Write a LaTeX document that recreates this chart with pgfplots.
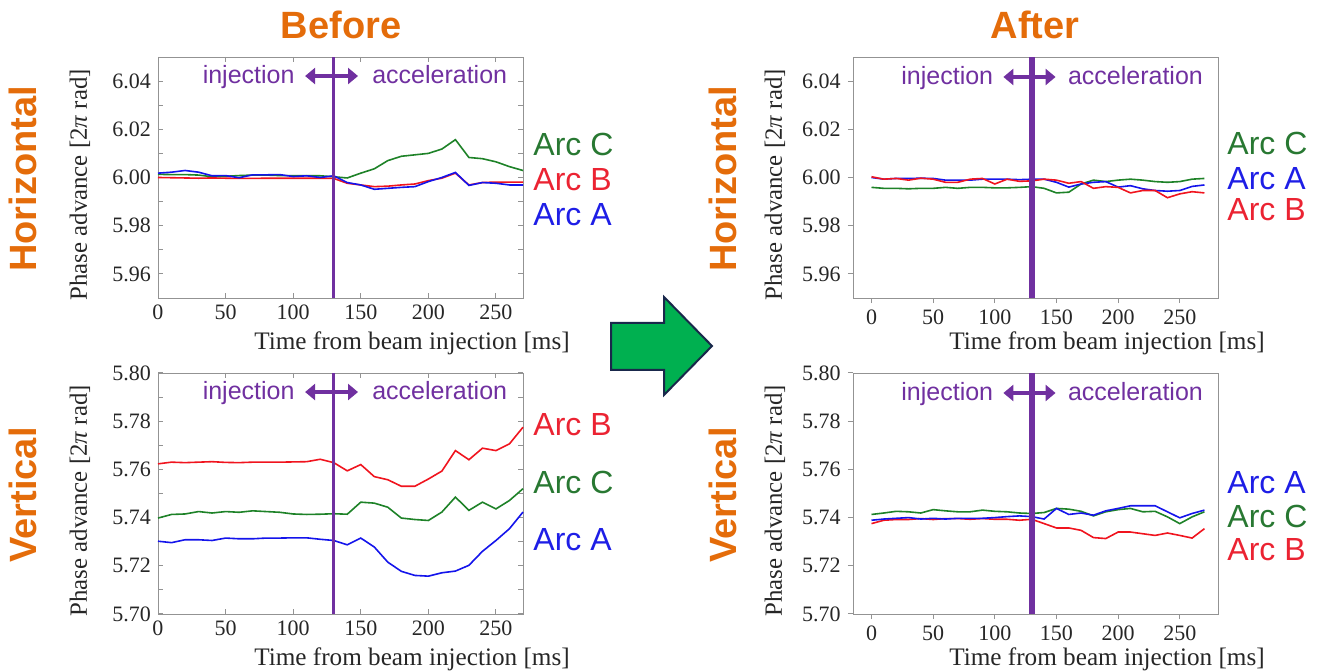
\documentclass[border=0pt]{standalone}
\usepackage{pgfplots}
\pgfplotsset{compat=1.18}
\usepackage{pgfplotstable}
\usepackage{fontspec}
\setmainfont{Liberation Serif}
\newfontfamily\sans{Liberation Sans}
\usetikzlibrary{arrows.meta}
\definecolor{orng}{RGB}{228,108,10}
\definecolor{purp}{RGB}{112,48,160}
\definecolor{sg}{RGB}{30,130,40}
\definecolor{sr}{RGB}{240,20,30}
\definecolor{sb}{RGB}{20,20,235}
\definecolor{lg}{RGB}{40,120,50}
\definecolor{lr}{RGB}{235,35,50}
\definecolor{lb}{RGB}{30,30,230}
\definecolor{arrg}{RGB}{0,176,80}
\definecolor{navy}{RGB}{25,40,75}

\pgfplotstableread{
x G R B
0 6.0013 6.0000 6.0018
10 6.0012 5.9999 6.0022
20 6.0012 5.9998 6.0029
30 6.0010 5.9997 6.0022
40 6.0003 5.9998 6.0007
50 6.0005 5.9997 6.0008
60 6.0008 5.9996 5.9999
70 6.0010 5.9996 6.0011
80 6.0010 5.9997 6.0011
90 6.0008 5.9997 6.0012
100 6.0008 5.9997 6.0004
110 6.0008 5.9997 6.0007
120 6.0007 5.9997 6.0000
130 6.0003 5.9996 6.0007
140 5.9998 5.9976 5.9979
150 6.0018 5.9969 5.9969
160 6.0036 5.9962 5.9951
170 6.0070 5.9964 5.9955
180 6.0088 5.9969 5.9959
190 6.0094 5.9973 5.9962
200 6.0100 5.9987 5.9983
210 6.0118 5.9997 6.0000
220 6.0157 6.0018 6.0021
230 6.0083 5.9969 5.9967
240 6.0078 5.9979 5.9979
250 6.0065 5.9981 5.9976
260 6.0045 5.9981 5.9969
270 6.0029 5.9981 5.9969
}\HB

\pgfplotstableread{
x G R B
0 5.7398 5.7623 5.7302
10 5.7413 5.7630 5.7296
20 5.7415 5.7628 5.7308
30 5.7425 5.7630 5.7308
40 5.7419 5.7632 5.7305
50 5.7425 5.7629 5.7315
60 5.7422 5.7628 5.7312
70 5.7428 5.7630 5.7312
80 5.7425 5.7630 5.7315
90 5.7422 5.7630 5.7315
100 5.7415 5.7631 5.7316
110 5.7413 5.7632 5.7316
120 5.7414 5.7642 5.7310
130 5.7416 5.7628 5.7305
140 5.7414 5.7594 5.7287
150 5.7464 5.7620 5.7315
160 5.7460 5.7570 5.7278
170 5.7443 5.7557 5.7215
180 5.7398 5.7530 5.7177
190 5.7392 5.7530 5.7160
200 5.7388 5.7560 5.7157
210 5.7423 5.7593 5.7171
220 5.7485 5.7678 5.7178
230 5.7430 5.7640 5.7202
240 5.7464 5.7688 5.7260
250 5.7436 5.7678 5.7305
260 5.7471 5.7706 5.7354
270 5.7520 5.7775 5.7423
}\VB

\pgfplotstableread{
x G R B
0 5.9959 6.0003 6.0000
10 5.9955 5.9993 5.9993
20 5.9955 5.9996 5.9996
30 5.9953 5.9989 5.9996
40 5.9955 5.9997 5.9997
50 5.9955 5.9993 5.9996
60 5.9959 5.9980 5.9989
70 5.9955 5.9980 5.9989
80 5.9959 5.9993 5.9989
90 5.9959 5.9996 5.9993
100 5.9957 5.9973 5.9993
110 5.9957 5.9993 5.9993
120 5.9959 5.9984 5.9991
130 5.9962 5.9986 5.9993
140 5.9955 5.9993 5.9993
150 5.9936 5.9989 5.9980
160 5.9939 5.9976 5.9960
170 5.9973 5.9983 5.9973
180 5.9989 5.9955 5.9980
190 5.9983 5.9962 5.9983
200 5.9989 5.9959 5.9960
210 5.9993 5.9936 5.9966
220 5.9989 5.9946 5.9953
230 5.9983 5.9946 5.9946
240 5.9980 5.9916 5.9943
250 5.9983 5.9932 5.9946
260 5.9993 5.9941 5.9963
270 5.9996 5.9936 5.9969
}\HA

\pgfplotstableread{
x G R B
0 5.7413 5.7375 5.7389
10 5.7419 5.7389 5.7394
20 5.7426 5.7392 5.7397
30 5.7424 5.7392 5.7400
40 5.7419 5.7396 5.7394
50 5.7433 5.7392 5.7397
60 5.7428 5.7396 5.7394
70 5.7424 5.7396 5.7397
80 5.7424 5.7393 5.7397
90 5.7431 5.7396 5.7397
100 5.7426 5.7393 5.7400
110 5.7424 5.7393 5.7404
120 5.7419 5.7389 5.7407
130 5.7417 5.7393 5.7404
140 5.7421 5.7375 5.7394
150 5.7438 5.7357 5.7438
160 5.7435 5.7357 5.7413
170 5.7426 5.7347 5.7419
180 5.7407 5.7317 5.7410
190 5.7424 5.7313 5.7428
200 5.7433 5.7340 5.7438
210 5.7438 5.7340 5.7449
220 5.7424 5.7333 5.7449
230 5.7426 5.7326 5.7449
240 5.7403 5.7336 5.7424
250 5.7375 5.7326 5.7399
260 5.7403 5.7315 5.7417
270 5.7424 5.7354 5.7431
}\VA

\tikzset{
  dbl/.style={purp, line width=2pt, {Triangle[length=5pt,width=8pt]}-{Triangle[length=5pt,width=8pt]}},
  ann/.style={text=purp, font=\sans\fontsize{12.5}{14}\selectfont, inner sep=0pt},
}
\pgfplotsset{
  panel/.style={
    scale only axis, width=182.5pt, height=120.5pt, clip=false,
    axis line style={gray!85},
    every tick/.style={gray!85, line width=0.5pt},
    major tick length=2.6pt,
    xtick={0,50,100,150,200,250},
    tick label style={font=\fontsize{11}{12}\selectfont, text=black!85},
    /pgf/number format/assume math mode=true,
    xlabel={Time from beam injection [ms]},
    ylabel={Phase advance [2\textit{π} rad]},
    xlabel style={at={(axis description cs:0.696,-0.19)}, anchor=center, font=\fontsize{12.6}{14}\selectfont, text=black!85},
    ylabel style={at={(axis description cs:-0.214,0.47)}, anchor=center, font=\fontsize{12.4}{14}\selectfont, text=black!85},
  },
  leftp/.style={panel, xmin=0, xmax=270, tick align=inside, tick pos=both},
  rightp/.style={panel, xmin=-15, xmax=281, tick align=outside, tick pos=left,
    yticklabel style={/pgf/number format/.cd, fixed, fixed zerofill, precision=2}},
  gl/.style={sg, line width=0.8pt},
  rl/.style={sr, line width=0.8pt},
  bl/.style={sb, line width=0.8pt},
}

\begin{document}
\begin{tikzpicture}
\useasboundingbox (0,0) rectangle (658.5pt,336pt);

% top-left: Horizontal before
\begin{axis}[leftp, at={(79pt,187pt)}, anchor=south west,
  ymin=5.95, ymax=6.05,
  ytick={5.96,5.97,5.98,5.99,6.00,6.01,6.02,6.03,6.04},
  yticklabels={5.96,,5.98,,6.00,,6.02,,6.04}]
\addplot[gl] table[x=x,y=G]{\HB};
\addplot[rl] table[x=x,y=R]{\HB};
\addplot[bl] table[x=x,y=B]{\HB};
\addplot[purp, line width=1.4pt] coordinates {(130,5.95) (130,6.05)};
\draw[dbl] (rel axis cs:0.403,0.921) -- (rel axis cs:0.548,0.921);
\node[ann, anchor=base east] at (rel axis cs:0.375,0.888) {injection};
\node[ann, anchor=base west] at (rel axis cs:0.586,0.888) {acceleration};
\end{axis}

% bottom-left: Vertical before
\begin{axis}[leftp, at={(79pt,29pt)}, anchor=south west,
  ymin=5.70, ymax=5.80,
  ytick={5.70,5.71,5.72,5.73,5.74,5.75,5.76,5.77,5.78,5.79,5.80},
  yticklabels={5.70,,5.72,,5.74,,5.76,,5.78,,5.80}]
\addplot[gl] table[x=x,y=G]{\VB};
\addplot[rl] table[x=x,y=R]{\VB};
\addplot[bl] table[x=x,y=B]{\VB};
\addplot[purp, line width=1.4pt] coordinates {(130,5.70) (130,5.80)};
\draw[dbl] (rel axis cs:0.403,0.921) -- (rel axis cs:0.548,0.921);
\node[ann, anchor=base east] at (rel axis cs:0.375,0.888) {injection};
\node[ann, anchor=base west] at (rel axis cs:0.586,0.888) {acceleration};
\end{axis}

% top-right: Horizontal after
\begin{axis}[rightp, at={(426.5pt,187pt)}, anchor=south west,
  ymin=5.95, ymax=6.05,
  ytick={5.96,5.98,6.00,6.02,6.04}]
\addplot[gl] table[x=x,y=G]{\HA};
\addplot[bl] table[x=x,y=B]{\HA};
\addplot[rl] table[x=x,y=R]{\HA};
\addplot[purp, line width=2.7pt] coordinates {(130,5.95) (130,6.05)};
\draw[dbl] (rel axis cs:0.412,0.917) -- (rel axis cs:0.555,0.917);
\node[ann, anchor=base east] at (rel axis cs:0.385,0.884) {injection};
\node[ann, anchor=base west] at (rel axis cs:0.588,0.884) {acceleration};
\end{axis}

% bottom-right: Vertical after
\begin{axis}[rightp, at={(426.5pt,29pt)}, anchor=south west,
  ymin=5.70, ymax=5.80,
  ytick={5.70,5.72,5.74,5.76,5.78,5.80}]
\addplot[gl] table[x=x,y=G]{\VA};
\addplot[rl] table[x=x,y=R]{\VA};
\addplot[bl] table[x=x,y=B]{\VA};
\addplot[purp, line width=2.7pt] coordinates {(130,5.70) (130,5.80)};
\draw[dbl] (rel axis cs:0.412,0.917) -- (rel axis cs:0.555,0.917);
\node[ann, anchor=base east] at (rel axis cs:0.385,0.884) {injection};
\node[ann, anchor=base west] at (rel axis cs:0.588,0.884) {acceleration};
\end{axis}

% titles and row labels
\tikzset{ttl/.style={text=orng, font=\sans\bfseries\fontsize{19}{22}\selectfont, inner sep=0pt}}
\node[ttl] at (170.5pt,323.5pt) {Before};
\node[ttl] at (517.5pt,323.5pt) {After};
\node[ttl, rotate=90] at (11.5pt,246.5pt) {Horizontal};
\node[ttl, rotate=90] at (11.5pt,88.5pt) {Vertical};
\node[ttl, rotate=90] at (361.5pt,246.5pt) {Horizontal};
\node[ttl, rotate=90] at (361.5pt,88.5pt) {Vertical};

% arc labels
\tikzset{arc/.style={font=\sans\fontsize{16}{18}\selectfont, anchor=west, inner sep=0pt}}
\node[arc, text=lg] at (266.5pt,263.5pt) {Arc C};
\node[arc, text=lr] at (266.5pt,246pt) {Arc B};
\node[arc, text=lb] at (266.5pt,228.5pt) {Arc A};
\node[arc, text=lr] at (266.5pt,123.5pt) {Arc B};
\node[arc, text=lg] at (266.5pt,95pt) {Arc C};
\node[arc, text=lb] at (266.5pt,66pt) {Arc A};
\node[arc, text=lg] at (613.5pt,264pt) {Arc C};
\node[arc, text=lb] at (613.5pt,246.5pt) {Arc A};
\node[arc, text=lr] at (613.5pt,231pt) {Arc B};
\node[arc, text=lb] at (613.5pt,94.5pt) {Arc A};
\node[arc, text=lg] at (613.5pt,78pt) {Arc C};
\node[arc, text=lr] at (613.5pt,61pt) {Arc B};

% big green arrow
\filldraw[fill=arrg, draw=navy, line width=1pt, line join=miter]
  (305.5pt,174.5pt) -- (332pt,174.5pt) -- (332pt,187.5pt) -- (356pt,163pt)
  -- (332pt,138.5pt) -- (332pt,151pt) -- (305.5pt,151pt) -- cycle;
\end{tikzpicture}
\end{document}
